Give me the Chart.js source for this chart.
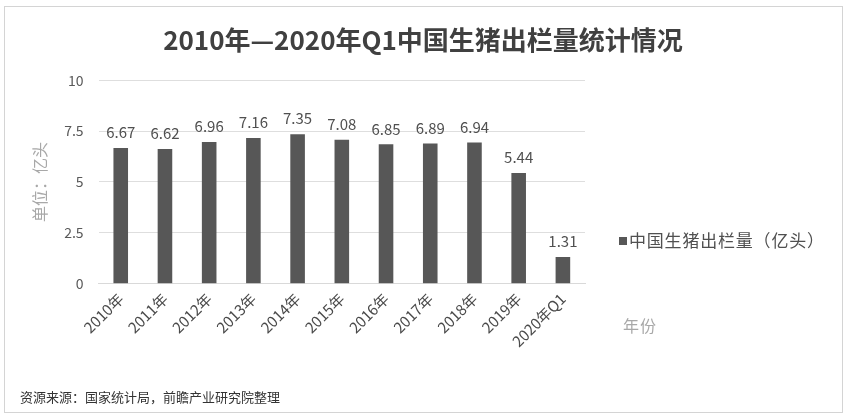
<!DOCTYPE html>
<html>
<head>
<meta charset="utf-8">
<script src="https://cdn.jsdelivr.net/npm/chart.js@4/dist/chart.umd.min.js"></script>
<style>
  html, body { margin: 0; padding: 0; background: #fff; }
  #wrap { position: relative; width: 846px; height: 417px; }
</style>
</head>
<body>
<div id="wrap"><canvas id="hogChart" width="846" height="417"></canvas></div>
<script>
// 生猪出栏量数据（亿头）
var years = ['2010年', '2011年', '2012年', '2013年', '2014年', '2015年', '2016年', '2017年', '2018年', '2019年', '2020年Q1'];
var slaughter = [6.67, 6.62, 6.96, 7.16, 7.35, 7.08, 6.85, 6.89, 6.94, 5.44, 1.31];
var yTicks = [0, 2.5, 5, 7.5, 10];

var seriesName = '中国生猪出栏量（亿头）';
var barColor = '#575757';
var cjk = '"Noto Sans CJK SC", "Noto Sans", sans-serif';

// 外框、数值标签、图例和横轴标题
var decorations = {
    id: 'decorations',
    beforeDraw: function(chart) {
        var ctx = chart.ctx;
        ctx.save();
        ctx.fillStyle = '#fff';
        ctx.fillRect(0, 0, chart.width, chart.height);
        ctx.strokeStyle = '#d4d4d4';
        ctx.lineWidth = 1;
        ctx.strokeRect(4.5, 6.5, 838, 406);
        ctx.restore();
    },
    afterDatasetsDraw: function(chart) {
        var ctx = chart.ctx;
        var meta = chart.getDatasetMeta(0);
        var data = chart.data.datasets[0].data;
        ctx.save();
        ctx.font = '15px ' + cjk;
        ctx.fillStyle = '#505050';
        ctx.textAlign = 'center';
        ctx.textBaseline = 'bottom';
        meta.data.forEach(function(bar, i) {
            ctx.fillText(data[i].toFixed(2), bar.x, bar.y - 8);
        });

        // 图例
        var area = chart.chartArea;
        var lx = area.right + 34;
        var ly = 241;
        ctx.fillStyle = barColor;
        ctx.fillRect(lx, ly - 4, 8, 8);
        ctx.font = '17px ' + cjk;
        ctx.letterSpacing = '0.8px';
        ctx.fillStyle = '#505050';
        ctx.textAlign = 'left';
        ctx.textBaseline = 'middle';
        ctx.fillText(chart.data.datasets[0].label, lx + 10, ly);

        // 横轴标题
        ctx.font = '16px ' + cjk;
        ctx.letterSpacing = '1px';
        ctx.fillStyle = '#a8a8a8';
        ctx.fillText('年份', area.right + 38, 326);
        ctx.restore();
    }
};

new Chart(document.getElementById('hogChart'), {
    type: 'bar',
    data: {
        labels: years,
        datasets: [{
            label: seriesName,
            data: slaughter,
            backgroundColor: barColor,
            barPercentage: 0.33,
            categoryPercentage: 1
        }]
    },
    options: {
        responsive: false,
        animation: false,
        layout: { padding: { left: 20, right: 20, top: 8, bottom: 4 } },
        plugins: {
            legend: { display: false },
            tooltip: { enabled: false },
            title: {
                display: true,
                text: '2010年—2020年Q1中国生猪出栏量统计情况',
                color: '#404040',
                font: { family: cjk, size: 26, weight: 'bold' },
                padding: { top: 17, bottom: 24 }
            },
            subtitle: {
                display: true,
                position: 'bottom',
                align: 'start',
                text: '资源来源：国家统计局，前瞻产业研究院整理',
                color: '#333',
                font: { family: cjk, size: 13 },
                padding: { top: 33, bottom: 8 }
            }
        },
        scales: {
            x: {
                grid: { display: false, drawTicks: false },
                border: { display: true, color: '#d9d9d9' },
                ticks: {
                    color: '#4a4a4a',
                    font: { family: cjk, size: 15 },
                    minRotation: 45,
                    maxRotation: 45,
                    padding: 6
                }
            },
            y: {
                min: 0,
                max: 10,
                afterBuildTicks: function(scale) {
                    scale.ticks = yTicks.map(function(v) { return { value: v }; });
                },
                grid: { color: '#dedede', drawTicks: false },
                border: { display: false },
                ticks: {
                    color: '#595959',
                    font: { family: cjk, size: 14 },
                    padding: 15
                },
                title: {
                    display: true,
                    text: '单位：亿头',
                    color: '#a8a8a8',
                    font: { family: cjk, size: 16 },
                    padding: { top: 10, bottom: 0 }
                }
            },
            // 右侧留白，放图例和横轴标题
            side: {
                type: 'linear',
                position: 'right',
                grid: { display: false },
                border: { display: false },
                ticks: { display: false },
                afterFit: function(scale) { scale.width = 241; }
            }
        }
    },
    plugins: [decorations]
});
</script>
</body>
</html>
